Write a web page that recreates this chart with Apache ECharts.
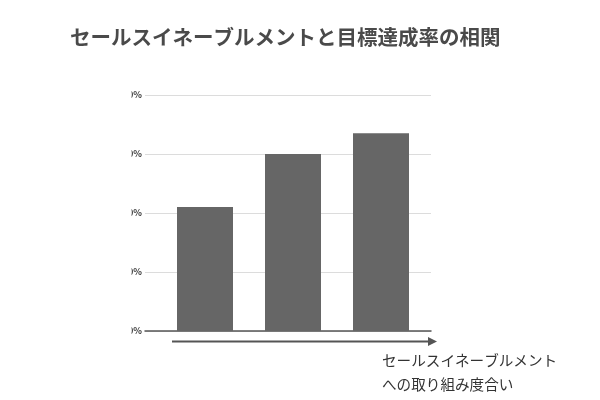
<!DOCTYPE html>
<html>
<head>
<meta charset="utf-8">
<script src="https://cdn.jsdelivr.net/npm/echarts@6/dist/echarts.min.js"></script>
<style>html,body{margin:0;padding:0;background:#fff}#c{width:600px;height:400px}</style>
</head>
<body>
<div id="c"></div>
<script>
const titleText = 'セールスイネーブルメントと目標達成率の相関';
const xAxisName = 'セールスイネーブルメント\nへの取り組み度合い';
const categories = ['低', '中', '高'];
const values = [42, 60, 67];
const yTicks = [0, 20, 40, 60, 80];

const chart = echarts.init(document.getElementById('c'));
const font = '"Noto Sans CJK JP", "Noto Sans", sans-serif';
chart.setOption({
  backgroundColor: '#fff',
  animation: false,
  title: {
    text: titleText, left: 65, top: 22,
    textStyle: { fontFamily: font, fontSize: 20.5, fontWeight: 'bold', color: '#4a4a4a' }
  },
  grid: [
    { left: 161, right: 175, top: 95, bottom: 69 },
    { left: 145, right: 169, top: 95, bottom: 69 }
  ],
  xAxis: [
    { type: 'category', data: categories, gridIndex: 0, axisLine: { show: false }, axisTick: { show: false }, axisLabel: { show: false } },
    { type: 'value', gridIndex: 1, min: 0, max: 1, axisLine: { show: true, lineStyle: { color: '#555', width: 1.5 } }, axisTick: { show: false }, axisLabel: { show: false }, splitLine: { show: false } }
  ],
  yAxis: [
    { type: 'value', gridIndex: 0, min: yTicks[0], max: yTicks[yTicks.length - 1], interval: 20, show: false, splitLine: { show: false } },
    { type: 'value', gridIndex: 1, min: yTicks[0], max: yTicks[yTicks.length - 1], interval: 20,
      axisLine: { show: false }, axisTick: { show: false },
      axisLabel: { formatter: '{value}%', fontFamily: font, fontSize: 9, fontWeight: 'bold', color: '#333', margin: 3 },
      splitLine: { show: true, lineStyle: { color: '#dcdcdc', width: 1 } } }
  ],
  series: [{
    type: 'bar', xAxisIndex: 0, yAxisIndex: 0, data: values, barWidth: 56,
    itemStyle: { color: '#666666' }
  }],
  graphic: [
    { type: 'rect', z: 100, shape: { x: 0, y: 80, width: 131.5, height: 265 }, style: { fill: '#fff' } },
    { type: 'line', z: 100, shape: { x1: 172, y1: 341.5, x2: 430, y2: 341.5 }, style: { stroke: '#555', lineWidth: 2.2 } },
    { type: 'polygon', z: 100, shape: { points: [[428, 337], [437, 341.5], [428, 346]] }, style: { fill: '#555' } },
    { type: 'text', z: 100, left: 382, top: 348, style: { text: xAxisName, font: '14.6px ' + font, fill: '#333', lineHeight: 24 } }
  ]
});
</script>
</body>
</html>
